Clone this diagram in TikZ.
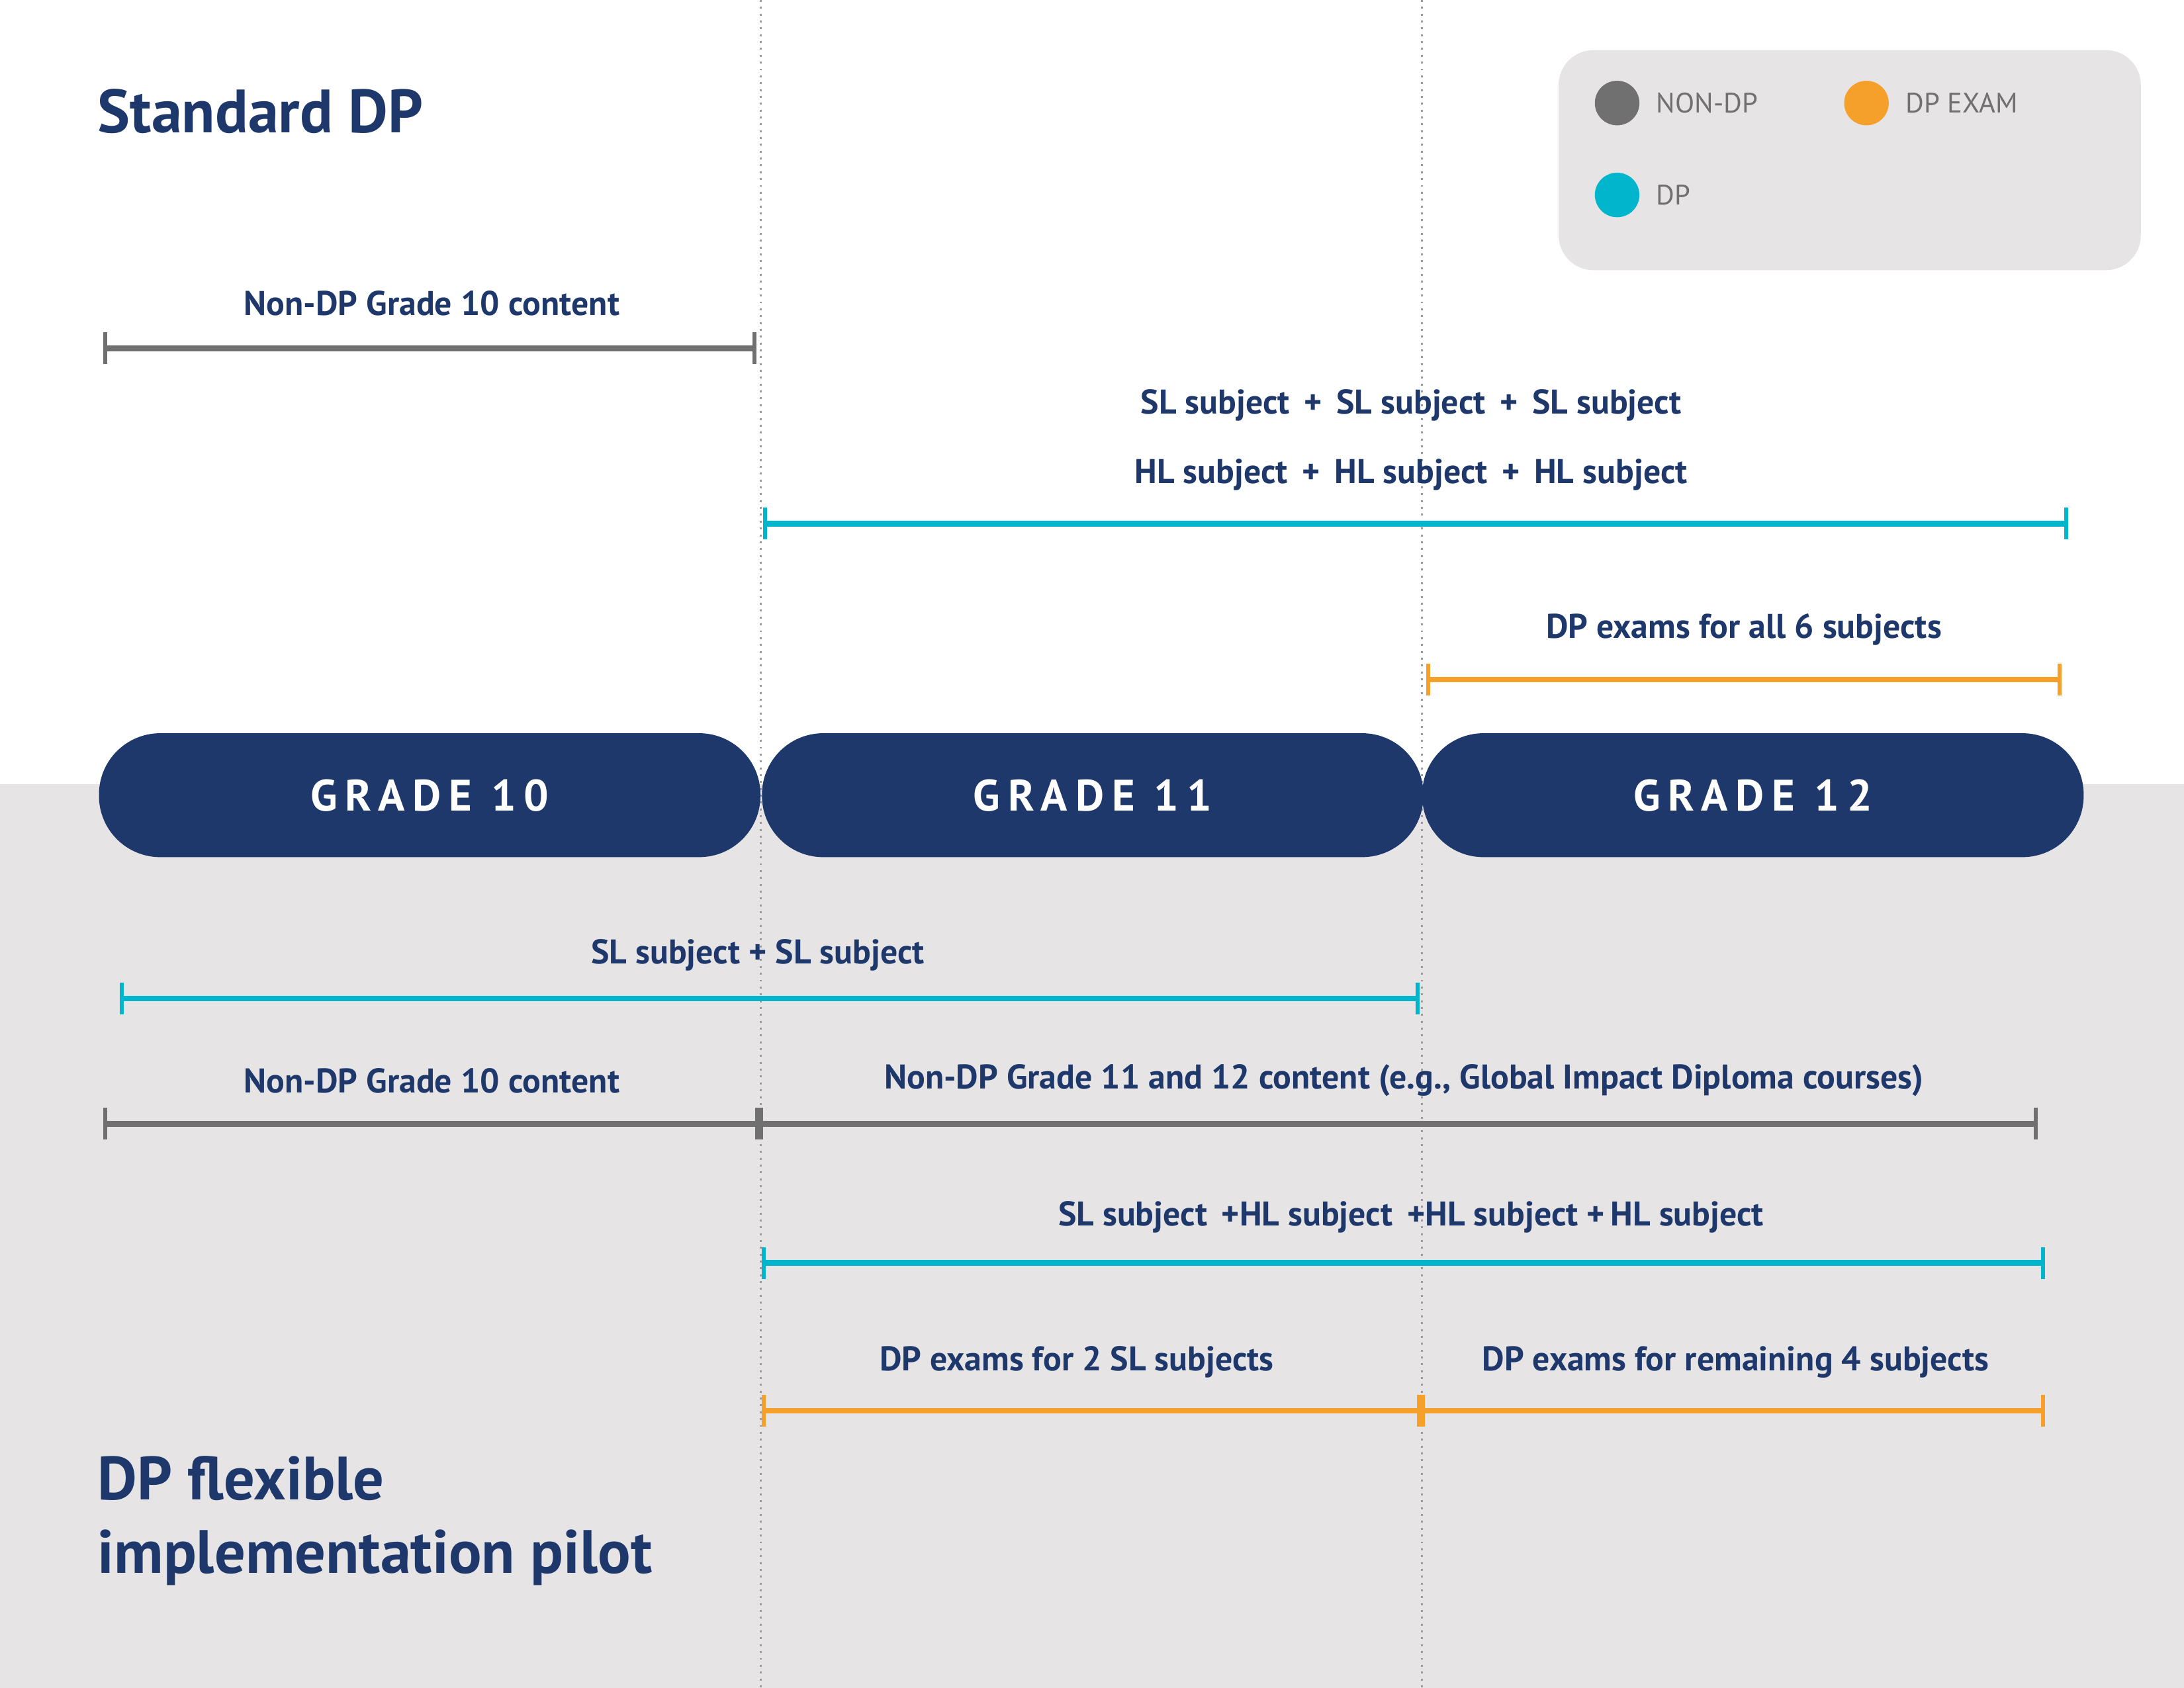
\documentclass[tikz,border=0pt]{standalone}
\usepackage{fontspec}
\setmainfont{PT Sans}
\usetikzlibrary{arrows.meta}
\definecolor{navy}{HTML}{1F386B}
\definecolor{nondp}{HTML}{707070}
\definecolor{dpcyan}{HTML}{00B5CC}
\definecolor{dpexam}{HTML}{F5A02A}
\definecolor{panel}{HTML}{E6E4E5}
\tikzset{
  span/.style={line width=2.4pt,{Bar[width=13pt,line width=1.6pt]}-{Bar[width=13pt,line width=1.6pt]}},
  spanlabel/.style={text=navy,font=\bfseries\fontsize{14}{16}\selectfont},
  gradepill/.style={fill=navy,rounded corners=0.88cm,minimum height=1.78cm,minimum width=9.5cm,inner sep=0pt,
    text=white,font=\bfseries\fontsize{18}{20}\selectfont\addfontfeatures{LetterSpace=18}},
  legendtext/.style={text=nondp,anchor=west,font=\fontsize{11.5}{13}\selectfont},
  title/.style={text=navy,anchor=west,align=left,font=\bfseries\fontsize{25}{30}\selectfont}
}
\begin{document}
\begin{tikzpicture}[x=0.02cm,y=-0.02cm]
\useasboundingbox (0,0) rectangle (1568,1212);
%fond
\fill[panel] (0,563) rectangle (1568,1212);
\fill[panel,rounded corners=0.5cm] (1119,36) rectangle (1537,194);

%linie siatki
\foreach \x in {546,1021}
  \draw[nondp!70,dotted,line width=0.8pt] (\x,0) -- (\x,1212);

%legenda
\fill[nondp] (1161,74) circle (16);
\fill[dpexam] (1340,74) circle (16);
\fill[dpcyan] (1161,140) circle (16);
\node[legendtext] (lnon) at (1183,74) {NON-DP};
\node[legendtext] (lexam) at (1362,74) {DP EXAM};
\node[legendtext] (ldp) at (1183,140) {DP};

%tytuly
\node[title] (tstd) at (64,80) {Standard DP};
\node[title] (tflex) at (64,1092) {DP flexible\\implementation pilot};

%klasy
\node[gradepill] (g10) at (308.5,571) {GRADE 10};
\node[gradepill] (g11) at (784.5,571) {GRADE 11};
\node[gradepill] (g12) at (1258.5,571) {GRADE 12};

%standard
\draw[span,nondp] (74,250) -- (543,250);
\node[spanlabel] (s1) at (310,218) {Non-DP Grade 10 content};
\draw[span,dpcyan] (548,376) -- (1485,376);
\node[spanlabel] (s2) at (1013,291) {SL subject \,+\, SL subject \,+\, SL subject};
\node[spanlabel] (s3) at (1013,341) {HL subject \,+\, HL subject \,+\, HL subject};
\draw[span,dpexam] (1024,488) -- (1480,488);
\node[spanlabel] (s4) at (1252,452) {DP exams for all 6 subjects};

%pilot
\draw[span,dpcyan] (86,717) -- (1019,717);
\node[spanlabel] (p1) at (544,686) {SL subject + SL subject};
\draw[span,nondp] (74,807) -- (545,807);
\draw[span,nondp] (545,807) -- (1463,807);
\node[spanlabel] (p2) at (310,776) {Non-DP Grade 10 content};
\node[spanlabel] (p3) at (1008,776) {Non-DP Grade 11 and 12 content (e.g., Global Impact Diploma courses)};
\draw[span,dpcyan] (547,907) -- (1468,907);
\node[spanlabel] (p4) at (1013,874) {SL subject \,+HL subject \,+HL subject +\,HL subject};
\draw[span,dpexam] (547,1013) -- (1020,1013);
\draw[span,dpexam] (1020,1013) -- (1468,1013);
\node[spanlabel] (p5) at (773,978) {DP exams for 2 SL subjects};
\node[spanlabel] (p6) at (1246,978) {DP exams for remaining 4 subjects};
\end{tikzpicture}
\end{document}
